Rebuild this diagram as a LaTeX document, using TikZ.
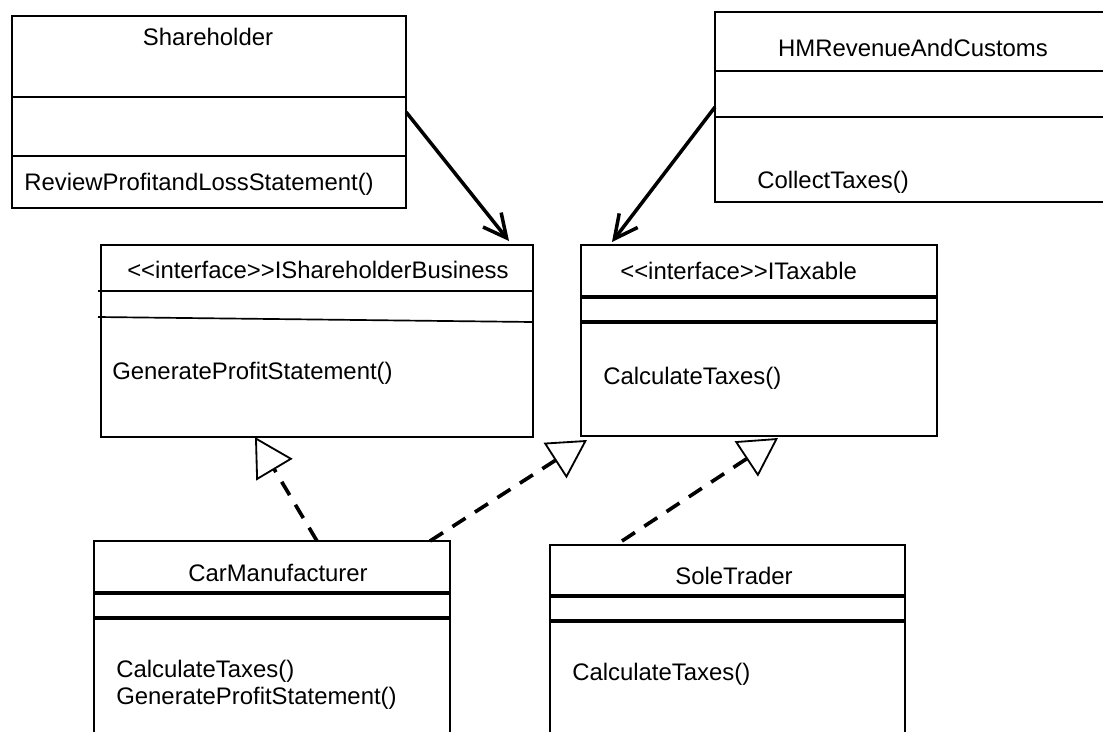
\documentclass[tikz,border=0pt]{standalone}
\usepackage{fontspec}
\setmainfont{Liberation Sans}
\usetikzlibrary{arrows.meta}

\begin{document}
\begin{tikzpicture}[x=0.025cm,y=-0.025cm,
  cls/.style={draw,line width=1.2pt,outer sep=0pt,inner sep=0pt,anchor=north west},
  lbl/.style={inner sep=0pt,font=\fontsize{17}{19}\selectfont,align=left},
  sep/.style={line width=1.2pt},
  sepb/.style={line width=2.4pt},
  assoc/.style={-{Straight Barb[length=0.58cm,width=0.58cm]},line width=2.5pt},
  real/.style={-{Triangle[fill=white,length=0.95cm,width=1.05cm,line width=1.3pt]},line width=2.6pt,dash pattern=on 11pt off 8pt}]
\useasboundingbox (0,0) rectangle (1103,731);
\clip (0,0) rectangle (1103,731);
% classes
\node[cls,minimum width=9.85cm,minimum height=4.8cm]   (sh)   at (12,16)  {};
\node[cls,minimum width=10.5cm,minimum height=4.75cm]  (hmrc) at (715,12) {};
\node[cls,minimum width=10.8cm,minimum height=4.8cm]   (isb)  at (101,245) {};
\node[cls,minimum width=8.9cm,minimum height=4.775cm]  (itax) at (581,245) {};
\node[cls,minimum width=8.9cm,minimum height=5.5cm]    (car)  at (94,541) {};
\node[cls,minimum width=8.875cm,minimum height=5.5cm]  (sole) at (550,545) {};
% compartments
\draw[sep] (12,97) -- (406,97);
\draw[sep] (12,156) -- (406,156);
\draw[sep] (715,71) -- (1103,71);
\draw[sep] (715,117) -- (1103,117);
\draw[sep] (98,291) -- (533,291);
\draw[sep] (98,317) -- (533,322);
\draw[sepb] (581,297) -- (937,297);
\draw[sepb] (581,322) -- (937,322);
\draw[sepb] (94,593) -- (450,593);
\draw[sepb] (94,618) -- (450,618);
\draw[sepb] (550,596) -- (905,596);
\draw[sepb] (550,621) -- (905,621);
% texts
\node[lbl] (shName) at (208,37) {Shareholder};
\node[lbl,anchor=west] (shOp) at (24,184) {ReviewProfitandLossStatement()};
\node[lbl] (hmName) at (913,48) {HMRevenueAndCustoms};
\node[lbl,anchor=west] (hmOp) at (757,182) {CollectTaxes()};
\node[lbl,anchor=west] (isbName) at (127,270) {<{}<interface>{}>IShareholderBusiness};
\node[lbl,anchor=west] (isbOp) at (112,373) {GenerateProfitStatement()};
\node[lbl,anchor=west] (itName) at (620,271) {<{}<interface>{}>ITaxable};
\node[lbl,anchor=west] (itOp) at (603,378) {CalculateTaxes()};
\node[lbl] (carName) at (278,573) {CarManufacturer};
\node[lbl,anchor=west] (carOp) at (116,685) {CalculateTaxes()\\GenerateProfitStatement()};
\node[lbl] (soleName) at (734,576) {SoleTrader};
\node[lbl,anchor=west] (soleOp) at (572,674) {CalculateTaxes()};
% connector ends
\coordinate (isbIn)  at (509,241);
\coordinate (itIn)   at (612,242);
\coordinate (isbReal) at (255,437);
\coordinate (itRealA) at (587,440);
\coordinate (itRealB) at (778,438);
\coordinate (carA) at (317,541);
\coordinate (carB) at (430,541);
\coordinate (soleA) at (622,541);
% associations
\draw[assoc] (sh.east) -- (isbIn);
\draw[assoc] (hmrc.west) -- (itIn);
% realizations
\draw[real] (carA) -- (isbReal);
\draw[real] (carB) -- (itRealA);
\draw[real] (soleA) -- (itRealB);
\end{tikzpicture}
\end{document}
